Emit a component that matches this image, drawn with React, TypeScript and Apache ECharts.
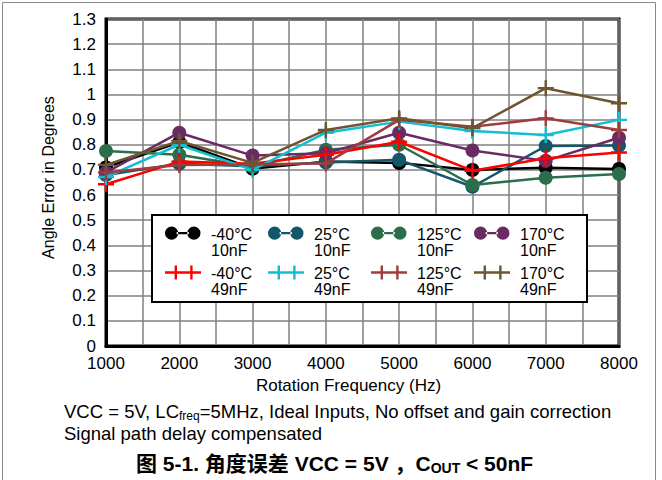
import React, { useEffect, useRef } from "react";
import * as echarts from "echarts";

const freqs = [1000, 2000, 3000, 4000, 5000, 6000, 7000, 8000];
const xTicks = [1000, 2000, 3000, 4000, 5000, 6000, 7000, 8000];
const yTicks = [0, 0.1, 0.2, 0.3, 0.4, 0.5, 0.6, 0.7, 0.8, 0.9, 1, 1.1, 1.2, 1.3];

const m40_10nF = [0.71, 0.81, 0.705, 0.733, 0.728, 0.7, 0.709, 0.704];
const p25_10nF = [0.68, 0.725, 0.715, 0.73, 0.74, 0.633, 0.795, 0.797];
const p125_10nF = [0.775, 0.76, 0.713, 0.78, 0.8, 0.64, 0.669, 0.684];
const p170_10nF = [0.69, 0.848, 0.757, 0.766, 0.848, 0.777, 0.736, 0.828];
const m40_49nF = [0.643, 0.733, 0.725, 0.76, 0.812, 0.697, 0.746, 0.769];
const p25_49nF = [0.672, 0.8, 0.7, 0.848, 0.892, 0.855, 0.839, 0.899];
const p125_49nF = [0.69, 0.72, 0.722, 0.726, 0.899, 0.872, 0.905, 0.859];
const p170_49nF = [0.72, 0.815, 0.728, 0.859, 0.905, 0.866, 1.025, 0.965];

const seriesNames = [
  "-40°C\n10nF", "25°C\n10nF", "125°C\n10nF", "170°C\n10nF",
  "-40°C\n49nF", "25°C\n49nF", "125°C\n49nF", "170°C\n49nF",
];
const seriesData = [m40_10nF, p25_10nF, p125_10nF, p170_10nF, m40_49nF, p25_49nF, p125_49nF, p170_49nF];
const seriesColors = ["#000000", "#135768", "#2a6e4c", "#6a2a62", "#ff0000", "#12bfd2", "#a03c3e", "#6f5431"];

const crossSymbol = "path://M-1.2,-8h2.4v16h-2.4z M-8,-1.2h16v2.4h-16z";
const circleIcon =
  "path://M0.5,8a6.5,6.5 0 1,0 13,0a6.5,6.5 0 1,0 -13,0z M22.5,8a6.5,6.5 0 1,0 13,0a6.5,6.5 0 1,0 -13,0z M12,6.8h12v2.4h-12z M35.99,31.99h0.01v0.01h-0.01z";
const crossIcon =
  "path://M0,6.8h36v2.4h-36z M9.6,1h2.4v14h-2.4z M25.2,1h2.4v14h-2.4z M35.99,31.99h0.01v0.01h-0.01z";

const FONT = "'Liberation Sans', Arial, 'Noto Sans CJK SC', sans-serif";

export default function App() {
  const ref = useRef<HTMLDivElement>(null);
  useEffect(() => {
    if (!ref.current) return;
    const chart = echarts.init(ref.current, undefined, { renderer: "svg" });
    const legendText = {
      fontSize: 16,
      lineHeight: 16,
      color: "#000",
      fontFamily: FONT,
      width: 48,
      padding: [0, 0, 0, 5],
    };
    chart.setOption({
      animation: false,
      backgroundColor: "#ffffff",
      textStyle: { fontFamily: FONT },
      grid: {
        left: 106,
        right: 43,
        top: 19,
        bottom: 134,
        show: true,
        borderColor: "#000",
        borderWidth: 3,
        backgroundColor: "transparent",
      },
      xAxis: {
        type: "value",
        min: 1000,
        max: 8000,
        interval: 500,
        name: "Rotation Frequency (Hz)",
        nameLocation: "middle",
        nameGap: 29,
        nameTextStyle: { fontSize: 17, color: "#000", padding: [0, 28, 0, 0] },
        axisLine: { show: true, lineStyle: { color: "#000", width: 3 } },
        axisTick: { show: false },
        axisLabel: {
          fontSize: 17,
          color: "#000",
          margin: 9,
          formatter: (v: number) => (xTicks.includes(v) ? String(v) : ""),
        },
        splitLine: { show: true, lineStyle: { color: "#808080", width: 1.5 } },
      },
      yAxis: {
        type: "value",
        min: yTicks[0],
        max: yTicks[yTicks.length - 1],
        interval: 0.1,
        name: "Angle Error in Degrees",
        nameLocation: "middle",
        nameGap: 50,
        nameTextStyle: { fontSize: 16, color: "#000", padding: [0, 0, 0, 10] },
        axisLine: { show: true, lineStyle: { color: "#000", width: 3 } },
        axisTick: { show: false },
        axisLabel: {
          fontSize: 17,
          color: "#000",
          margin: 10,
          formatter: (v: number) => String(Math.round(v * 10) / 10),
        },
        splitLine: { show: true, lineStyle: { color: "#808080", width: 1.5 } },
      },
      legend: [
        {
          data: seriesNames.slice(0, 4).map((n) => ({ name: n, icon: circleIcon })),
          left: 152,
          top: 215,
          orient: "horizontal",
          itemWidth: 36,
          itemHeight: 32,
          itemGap: 9,
          padding: [11, 19, 44, 13],
          backgroundColor: "#ffffff",
          borderColor: "#000",
          borderWidth: 2,
          textStyle: legendText,
          selectedMode: false,
          z: 5,
        },
        {
          data: seriesNames.slice(4).map((n) => ({ name: n, icon: crossIcon })),
          left: 152,
          top: 254,
          orient: "horizontal",
          itemWidth: 36,
          itemHeight: 32,
          itemGap: 9,
          padding: [11, 19, 0, 13],
          backgroundColor: "transparent",
          borderWidth: 0,
          textStyle: legendText,
          selectedMode: false,
          z: 6,
        },
      ],
      series: seriesNames.map((name, i) => ({
        name,
        type: "line",
        data: freqs.map((f, j) => [f, seriesData[i][j]]),
        symbol: i < 4 ? "circle" : crossSymbol,
        symbolSize: i < 4 ? 14 : 16,
        showAllSymbol: true,
        color: seriesColors[i],
        lineStyle: { color: seriesColors[i], width: 2.5 },
        itemStyle: { color: seriesColors[i] },
        z: 2 + i * 0.01,
      })),
      graphic: [
        {
          type: "rect",
          shape: { x: 2.5, y: 2.5, width: 653, height: 490 },
          style: { fill: "none", stroke: "#8a8a8a", lineWidth: 1 },
          silent: true,
          z: 0,
        },
        {
          type: "text",
          left: 64,
          top: 402,
          style: {
            text: "{a|VCC = 5V, LC}{s|freq}{a|=5MHz, Ideal Inputs, No offset and gain correction}",
            rich: {
              a: { fontSize: 18.5, lineHeight: 21, fill: "#000", fontFamily: FONT },
              s: { fontSize: 12, lineHeight: 12, verticalAlign: "bottom", fill: "#000", fontFamily: FONT },
            },
          },
        },
        {
          type: "text",
          left: 64,
          top: 423,
          style: {
            text: "Signal path delay compensated",
            fontSize: 18.5,
            lineHeight: 21,
            fill: "#000",
            fontFamily: FONT,
          },
        },
        {
          type: "text",
          left: 136,
          top: 453,
          style: {
            text: "{a|图 5-1. 角度误差 VCC = 5V ，C}{s|OUT}{a| < 50nF}",
            rich: {
              a: { fontSize: 21, lineHeight: 23, fontWeight: "bold", fill: "#000", fontFamily: FONT },
              s: { fontSize: 14, lineHeight: 14, verticalAlign: "bottom", fontWeight: "bold", fill: "#000", fontFamily: FONT },
            },
          },
        },
      ],
    });
    return () => chart.dispose();
  }, []);
  return (
    <div
      ref={ref}
      style={{ position: "fixed", left: 0, top: 0, width: 662, height: 480 }}
    />
  );
}
